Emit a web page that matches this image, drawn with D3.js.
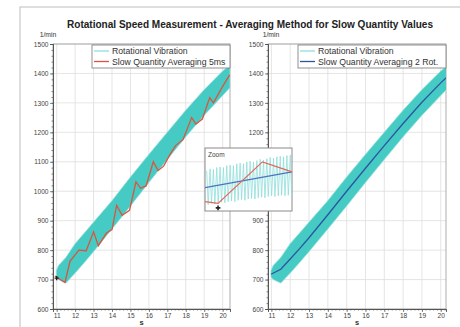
<!DOCTYPE html>
<html><head><meta charset="utf-8">
<script src="https://cdn.jsdelivr.net/npm/d3@7"></script>
<style>
html,body{margin:0;padding:0;background:#fff;}
svg{display:block;font-family:"Liberation Sans",Arial,sans-serif;}
</style></head><body>
<svg id="c" width="460" height="327"></svg>
<script>
// ---------- data ----------
const title = "Rotational Speed Measurement - Averaging Method for Slow Quantity Values";
const unitLabel = "1/min";
const timeLabel = "s";
const timeTicks = [11, 12, 13, 14, 15, 16, 17, 18, 19, 20];
const speedTicks = [600, 700, 800, 900, 1000, 1100, 1200, 1300, 1400, 1500];
const seriesVibration = "Rotational Vibration";
const seriesAvg5ms = "Slow Quantity Averaging 5ms";
const seriesAvg2Rot = "Slow Quantity Averaging 2 Rot.";

// envelope of the rotational vibration band
const bandTime  = [10.98, 11.1, 11.5, 12,  12.5, 13,  14,  15,   16,   17,   18,   19,   20,   20.4];
const bandUpper = [730,   748,  775,  822, 858,  895, 968, 1048, 1125, 1200, 1275, 1345, 1408, 1428];
const bandLower = [708,   700,  688,  722, 758,  795, 872, 950,  1030, 1108, 1185, 1258, 1325, 1352];

// slow quantity averaging 5 ms (left)
const avg5msTime  = [10.9, 11.0, 11.45, 11.72, 12.2, 12.6, 13.0, 13.26, 13.7, 14.0, 14.25, 14.55, 14.95, 15.3, 15.55, 15.85, 16.24, 16.5, 16.8, 17.15, 17.45, 17.85, 18.32, 18.55, 18.9, 19.3, 19.5, 19.95, 20.38];
const avg5msValue = [712,  708,  690,   762,   800,  798,  862,  815,   858,  870,  952,   918,   935,   1032, 1010,  1018,  1100,  1070, 1085, 1125,  1155,  1175,  1250,  1228,  1245, 1318, 1300, 1350,  1395];

// slow quantity averaging 2 rotations (right)
const avg2RotTime  = [10.98, 11.5, 12,  12.5, 13,  14,  15,   16,   17,   18,   19,   20,   20.28];
const avg2RotValue = [718,   735,  770, 805,  842, 920, 1000, 1078, 1155, 1230, 1302, 1368, 1385];

// start marker
const markerTime = [11.0];
const markerValue = [705];

// zoom inset (local units 0..100)
const zoomVibHigh = [64,67,66,69,70,69,72,73,72,75,76,75,78,79,78,80,82,81,83,85,84,86,87,86,88,89];
const zoomVibLow  = [10,12,11,13,14,13,15,16,15,17,18,17,19,20,19,21,22,21,23,24,23,24,25,24,25,26];
const zoomBlueX = [0, 100];
const zoomBlueY = [37, 62];
const zoomRedX = [0, 15, 66, 100];
const zoomRedY = [15, 12, 78, 62];
const zoomMarkX = [15];
const zoomMarkY = [5];

// ---------- drawing ----------
const svg = d3.select("#c");
const cyan = "#45cbc3", cyanLight = "#8fdedb", red = "#d9553f", blue = "#2d55a0";

// outer frame
svg.append("rect").attr("x", 20).attr("y", 7).attr("width", 460).attr("height", 340)
  .attr("fill", "none").attr("stroke", "#c8c8c8").attr("stroke-width", 1.2);

svg.append("text").attr("x", 250).attr("y", 28).attr("text-anchor", "middle")
  .attr("font-size", 10).attr("font-weight", "bold").attr("fill", "#222")
  .attr("textLength", 366).attr("lengthAdjust", "spacingAndGlyphs").text(title);

const y = d3.scaleLinear().domain([600, 1500]).range([309, 44]);
const defs = svg.append("defs");

function panel(id, x, lineT, lineV, lineColor, legendLabel, legendX, unitX) {
  const [x0, x1] = x.range();
  const g = svg.append("g");
  defs.append("clipPath").attr("id", id).append("rect")
    .attr("x", x0).attr("y", 44).attr("width", x1 - x0).attr("height", 265);

  // grid
  g.append("g").selectAll("line").data(timeTicks).join("line")
    .attr("x1", d => x(d)).attr("x2", d => x(d)).attr("y1", 44).attr("y2", 309)
    .attr("stroke", "#dedede").attr("stroke-width", 0.8);
  g.append("g").selectAll("line").data(speedTicks).join("line")
    .attr("x1", x0).attr("x2", x1).attr("y1", d => y(d)).attr("y2", d => y(d))
    .attr("stroke", "#dedede").attr("stroke-width", 0.8);

  // frame
  g.append("rect").attr("x", x0).attr("y", 44).attr("width", x1 - x0).attr("height", 265)
    .attr("fill", "none").attr("stroke", "#9a9a9a").attr("stroke-width", 0.8);

  const plot = g.append("g").attr("clip-path", `url(#${id})`);
  const band = bandTime.map((t, i) => ({t, u: bandUpper[i], l: bandLower[i]}));
  plot.append("path").datum(band)
    .attr("d", d3.area().x(d => x(d.t)).y0(d => y(d.l)).y1(d => y(d.u)))
    .attr("fill", cyan).attr("stroke", cyanLight).attr("stroke-width", 0.8);

  const pts = lineT.map((t, i) => [t, lineV[i]]);
  plot.append("path").datum(pts)
    .attr("d", d3.line().x(d => x(d[0])).y(d => y(d[1])))
    .attr("fill", "none").attr("stroke", lineColor).attr("stroke-width", 1.3);

  // axes
  const ay = g.append("g").attr("transform", `translate(${x0},0)`)
    .call(d3.axisLeft(y).tickValues(speedTicks).tickSize(3).tickPadding(1.5).tickFormat(d3.format("d")));
  const ayMinor = g.append("g").attr("transform", `translate(${x0},0)`)
    .call(d3.axisLeft(y).tickValues(d3.range(600, 1501, 20)).tickSize(1.5).tickFormat(""));
  const ax = g.append("g").attr("transform", `translate(0,309)`)
    .call(d3.axisBottom(x).tickValues(timeTicks).tickSize(3).tickPadding(1.5).tickFormat(d3.format("d")));
  const axMinor = g.append("g").attr("transform", `translate(0,309)`)
    .call(d3.axisBottom(x).tickValues(d3.range(11, 20.3, 0.2)).tickSize(1.5).tickFormat(""));
  [ay, ax, ayMinor, axMinor].forEach(a => {
    a.select(".domain").attr("stroke", "#555").attr("stroke-width", 0.9);
    a.selectAll(".tick line").attr("stroke", "#555").attr("stroke-width", 0.7);
    a.selectAll("text").attr("font-size", 6.6).attr("fill", "#444")
      .attr("font-family", "Liberation Sans, Arial, sans-serif");
  });

  g.append("text").attr("x", unitX).attr("y", 37).attr("text-anchor", "middle")
    .attr("font-size", 6.8).attr("fill", "#333").text(unitLabel);
  g.append("text").attr("x", (x0 + x1) / 2).attr("y", 325).attr("text-anchor", "middle")
    .attr("font-size", 7.5).attr("font-weight", "bold").attr("fill", "#333").text(timeLabel);

  // legend
  const lg = g.append("g");
  lg.append("rect").attr("x", legendX).attr("y", 45).attr("width", x1 - legendX).attr("height", 23)
    .attr("fill", "#fff").attr("stroke", "#777").attr("stroke-width", 0.8);
  const items = [[seriesVibration, cyanLight, 51], [legendLabel, lineColor, 61.5]];
  items.forEach(([lab, col, yy]) => {
    lg.append("line").attr("x1", legendX + 2).attr("x2", legendX + 17).attr("y1", yy).attr("y2", yy)
      .attr("stroke", col).attr("stroke-width", 1.3);
    lg.append("text").attr("x", legendX + 20).attr("y", yy + 3).attr("font-size", 8.7)
      .attr("fill", "#333").text(lab);
  });
  return g;
}

const xL = d3.scaleLinear().domain([10.8, 20.4]).range([53, 230]);
const xR = d3.scaleLinear().domain([10.82, 20.28]).range([268, 446]);

const gL = panel("clipL", xL, avg5msTime, avg5msValue, red, seriesAvg5ms, 92, 48);
gL.append("g").selectAll("path").data(markerTime).join("path")
  .attr("d", d3.symbol(d3.symbolCross, 10))
  .attr("transform", (d, i) => `translate(${xL(d)},${y(markerValue[i])})`)
  .attr("fill", "#222");
panel("clipR", xR, avg2RotTime, avg2RotValue, blue, seriesAvg2Rot, 298, 271);

// ---------- zoom inset ----------
const zx = d3.scaleLinear().domain([0, 100]).range([205, 292]);
const zy = d3.scaleLinear().domain([0, 100]).range([211, 148]);
const zg = svg.append("g");
zg.append("rect").attr("x", 205).attr("y", 148).attr("width", 87).attr("height", 63)
  .attr("fill", "#fff").attr("stroke", "#8a8a8a").attr("stroke-width", 1);
zg.append("text").attr("x", 208).attr("y", 157).attr("font-size", 6.5).attr("fill", "#444").text("Zoom");
const zi = d3.scaleLinear().domain([0, zoomVibHigh.length - 1]).range([2, 98]);
const vib = [];
zoomVibHigh.forEach((h, i) => { vib.push([zi(i), h]); vib.push([zi(i) + 1.6, zoomVibLow[i]]); });
zg.append("path").datum(vib)
  .attr("d", d3.line().x(d => zx(d[0])).y(d => zy(d[1])))
  .attr("fill", "none").attr("stroke", cyanLight).attr("stroke-width", 0.8);
zg.append("path").datum(zoomBlueX.map((v, i) => [v, zoomBlueY[i]]))
  .attr("d", d3.line().x(d => zx(d[0])).y(d => zy(d[1])))
  .attr("fill", "none").attr("stroke", "#4a74bd").attr("stroke-width", 1.2);
zg.append("path").datum(zoomRedX.map((v, i) => [v, zoomRedY[i]]))
  .attr("d", d3.line().x(d => zx(d[0])).y(d => zy(d[1])))
  .attr("fill", "none").attr("stroke", "#e0675a").attr("stroke-width", 1.2);
zg.selectAll(".mk").data(zoomMarkX).join("path")
  .attr("d", d3.symbol(d3.symbolCross, 12))
  .attr("transform", (d, i) => `translate(${zx(d)},${zy(zoomMarkY[i])})`)
  .attr("fill", "#222");
</script>
</body></html>
